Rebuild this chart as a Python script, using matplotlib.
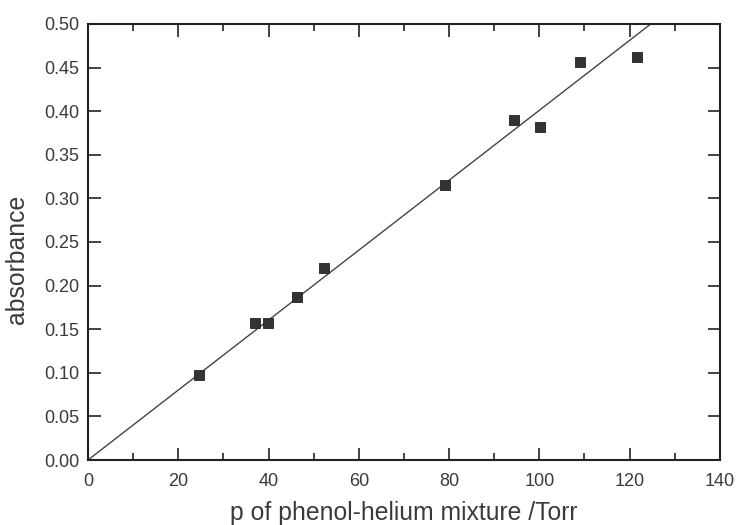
import numpy as np
import matplotlib
matplotlib.use("Agg")
import matplotlib.pyplot as plt
from matplotlib.ticker import MultipleLocator, FormatStrFormatter

# Measured absorbance vs. pressure of the phenol-helium mixture
pressure = [24.5, 37.0, 39.9, 46.2, 52.2, 79.0, 94.4, 100.2, 109.1, 121.6]
absorbance = [0.0975, 0.1575, 0.1575, 0.1866, 0.2206, 0.3154, 0.390, 0.3816, 0.456, 0.4625]

# Linear fit through the origin
slope = 0.00401
fit_x = [0, 140]

plt.rcParams['font.family'] = ['Liberation Sans', 'DejaVu Sans']
text_color = '#3a3a3a'

fig = plt.figure(figsize=(7.36, 5.25), dpi=100)
ax = fig.add_axes([0.1196, 0.1238, 0.8584, 0.8305])

ax.plot(fit_x, [slope * x for x in fit_x], color='#444444', lw=1.0, zorder=2)
ax.scatter(pressure, absorbance, marker='s', s=56, color='#333333',
           edgecolors='#222222', linewidths=0.6, zorder=3)

ax.set_xlim(0, 140)
ax.set_ylim(0, 0.5)
ax.xaxis.set_major_locator(MultipleLocator(20))
ax.xaxis.set_minor_locator(MultipleLocator(10))
ax.yaxis.set_major_locator(MultipleLocator(0.05))
ax.yaxis.set_major_formatter(FormatStrFormatter('%.2f'))

ax.tick_params(which='both', direction='in', top=True, right=True,
               labelsize=13, labelcolor=text_color, color='#222222', width=1.2)
ax.tick_params(which='major', length=9)
ax.tick_params(which='minor', length=5)
ax.tick_params(axis='x', pad=9)
ax.tick_params(axis='y', pad=6)

for sp in ax.spines.values():
    sp.set_linewidth(1.5)
    sp.set_color('#222222')

ax.set_xlabel('p of phenol-helium mixture /Torr', fontsize=17.8, color=text_color, labelpad=8)
ax.set_ylabel('absorbance', fontsize=17.8, color=text_color)
ax.yaxis.set_label_coords(-0.094, 0.46)

fig.savefig('out.png', dpi=100)
